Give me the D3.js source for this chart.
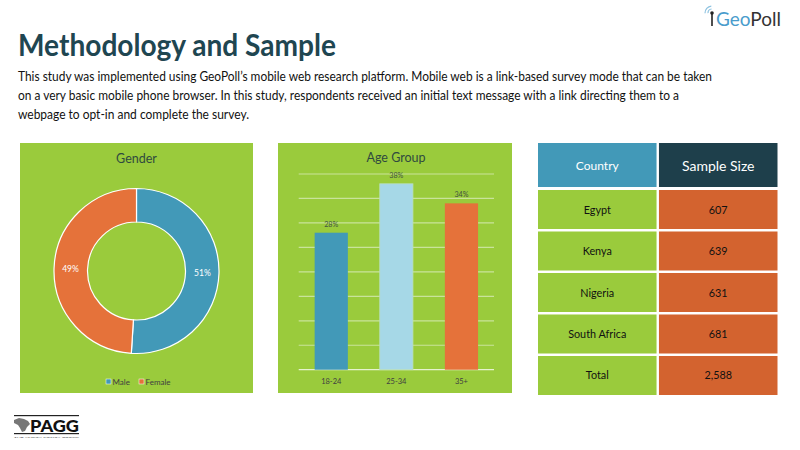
<!DOCTYPE html>
<html><head><meta charset="utf-8">
<script src="https://cdn.jsdelivr.net/npm/d3@7"></script>
<style>body{margin:0;background:#fff}svg{display:block}text{font-family:Lato,"Open Sans",sans-serif}</style>
</head><body>
<svg id="c" width="800" height="450"></svg>
<script>
const titleText = "Methodology and Sample";
const bodyLines = [
  "This study was implemented using GeoPoll\u2019s mobile web research platform. Mobile web is a link-based survey mode that can be taken",
  "on a very basic mobile phone browser. In this study, respondents received an initial text message with a link directing them to a",
  "webpage to opt-in and complete the survey."
];
const genderLabels = ["Male", "Female"];
const genderValues = [51, 49];
const ageGroups = ["18-24", "25-34", "35+"];
const ageValues = [28, 38, 34];
const ageTicks = [0, 5, 10, 15, 20, 25, 30, 35, 40];
const countries = ["Egypt", "Kenya", "Nigeria", "South Africa", "Total"];
const sampleSizes = [607, 639, 631, 681, 2588];
const tableHeaders = ["Country", "Sample Size"];

const svg = d3.select("#c");
const GREEN = "#9acb3c", BLUE = "#4299b8", LBLUE = "#a6d8e7", ORANGE = "#e5723a", DORANGE = "#d3632f", DARK = "#1e3f4b";

// Title & paragraph
svg.append("text").attr("x", 18).attr("y", 56).attr("font-size", 31).attr("font-weight", 700)
  .attr("fill", "#1f4651").attr("textLength", 318).attr("lengthAdjust", "spacingAndGlyphs").text(titleText);
const lineW = [694, 661, 231];
bodyLines.forEach((l, i) => {
  svg.append("text").attr("x", 18).attr("y", 81 + i * 19).attr("font-size", 12.8).attr("fill", "#111")
    .attr("textLength", lineW[i]).attr("lengthAdjust", "spacingAndGlyphs").text(l);
});

// GeoPoll logo
const g0 = svg.append("g");
g0.append("line").attr("x1", 712).attr("x2", 712).attr("y1", 14).attr("y2", 26).attr("stroke", "#222").attr("stroke-width", 1.6);
g0.append("circle").attr("cx", 712).attr("cy", 13).attr("r", 1.8).attr("fill", "#222");
[4, 7].forEach(r => g0.append("path").attr("d", d3.arc()({innerRadius: r - 0.6, outerRadius: r + 0.6, startAngle: -1.6, endAngle: -0.1}))
  .attr("transform", "translate(712,13)").attr("fill", "#8fc3e0"));
const gt = g0.append("text").attr("x", 716).attr("y", 26).attr("font-size", 19).attr("font-family", "'Open Sans',sans-serif");
gt.append("tspan").attr("fill", "#4a9ccc").text("Geo");
gt.append("tspan").attr("fill", "#333").text("Poll");

// Gender donut panel
svg.append("rect").attr("x", 20).attr("y", 143).attr("width", 233).attr("height", 250).attr("fill", GREEN);
svg.append("text").attr("x", 136.5).attr("y", 163).attr("text-anchor", "middle").attr("font-size", 12.5).attr("fill", "#2f4a3f").text("Gender");
const pie = d3.pie().sort(null).value(d => d)(genderValues);
const arc = d3.arc().innerRadius(49).outerRadius(82.5);
const colG = [BLUE, ORANGE];
const dg = svg.append("g").attr("transform", "translate(136.5,271)");
dg.selectAll("path").data(pie).join("path").attr("d", arc).attr("fill", (d, i) => colG[i]).attr("stroke", "#fff").attr("stroke-width", 1.2);
const lblArc = d3.arc().innerRadius(66).outerRadius(66);
dg.selectAll("text.l").data(pie).join("text").attr("class", "l")
  .attr("transform", d => { const c = lblArc.centroid(d); return `translate(${c[0]},${c[1] + 3})`; })
  .attr("text-anchor", "middle").attr("font-size", 8.5).attr("fill", "#fff").text((d, i) => genderValues[i] + "%");
const leg = svg.append("g");
const legX = [106, 139];
genderLabels.forEach((l, i) => {
  leg.append("rect").attr("x", legX[i]).attr("y", 379).attr("width", 5).attr("height", 5).attr("fill", colG[i]).attr("stroke", "#fff").attr("stroke-width", 0.5);
  leg.append("text").attr("x", legX[i] + 6.5).attr("y", 384.5).attr("font-size", 8).attr("fill", "#404040").text(l);
});

// Age bar panel
svg.append("rect").attr("x", 278).attr("y", 143).attr("width", 234).attr("height", 250).attr("fill", GREEN);
svg.append("text").attr("x", 396).attr("y", 162).attr("text-anchor", "middle").attr("font-size", 12.5).attr("fill", "#2f4a3f").text("Age Group");
const x = d3.scaleBand().domain(ageGroups).range([298.7, 494]).paddingInner(0.49).paddingOuter(0.245);
const y = d3.scaleLinear().domain([0, 40]).range([369.7, 174]);
svg.append("g").selectAll("line").data(ageTicks).join("line")
  .attr("x1", 298.7).attr("x2", 494).attr("y1", d => y(d)).attr("y2", d => y(d))
  .attr("stroke", d => d === 0 ? "#e6f2cf" : "#c9e39a").attr("stroke-width", 1.2);
const colA = [BLUE, LBLUE, ORANGE];
svg.append("g").selectAll("rect").data(ageValues).join("rect")
  .attr("x", (d, i) => x(ageGroups[i])).attr("width", x.bandwidth())
  .attr("y", d => y(d)).attr("height", d => y(0) - y(d))
  .attr("fill", (d, i) => colA[i]).attr("stroke", (d, i) => i === 1 ? "#b9dfb8" : "none").attr("stroke-width", 0.8);
svg.append("g").selectAll("text").data(ageValues).join("text")
  .attr("x", (d, i) => x(ageGroups[i]) + x.bandwidth() / 2).attr("y", d => y(d) - 6)
  .attr("text-anchor", "middle").attr("font-size", 7.2).attr("fill", "#435340").text(d => d + "%");
const xa = svg.append("g").attr("transform", "translate(0,369.7)").call(d3.axisBottom(x).tickSize(0).tickPadding(9));
xa.select(".domain").remove();
xa.selectAll("text").attr("font-size", 7.5).attr("fill", "#404040").attr("font-family", "Lato,sans-serif");

// Table
const cx = d3.scaleBand().domain(tableHeaders).range([538, 777.5]).paddingInner(0.02);
const ry = d3.scaleBand().domain(countries).range([190, 395]).paddingInner(0.06);
const hdr = svg.append("g");
hdr.selectAll("rect").data(tableHeaders).join("rect").attr("x", d => cx(d)).attr("y", 143).attr("width", cx.bandwidth()).attr("height", 44)
  .attr("fill", (d, i) => i ? DARK : BLUE);
hdr.selectAll("text").data(tableHeaders).join("text").attr("x", d => cx(d) + cx.bandwidth() / 2).attr("y", (d, i) => i ? 171 : 170)
  .attr("text-anchor", "middle").attr("font-size", (d, i) => i ? 14 : 12).attr("fill", "#fff").text(d => d);
const rows = svg.append("g").selectAll("g").data(countries).join("g");
rows.append("rect").attr("x", cx(tableHeaders[0])).attr("y", d => ry(d)).attr("width", cx.bandwidth()).attr("height", ry.bandwidth()).attr("fill", GREEN);
rows.append("rect").attr("x", cx(tableHeaders[1])).attr("y", d => ry(d)).attr("width", cx.bandwidth()).attr("height", ry.bandwidth()).attr("fill", DORANGE);
rows.append("text").attr("x", cx(tableHeaders[0]) + cx.bandwidth() / 2).attr("y", d => ry(d) + ry.bandwidth() / 2 + 4)
  .attr("text-anchor", "middle").attr("font-size", 10.8).attr("fill", "#111").text(d => d);
rows.append("text").attr("x", cx(tableHeaders[1]) + cx.bandwidth() / 2).attr("y", d => ry(d) + ry.bandwidth() / 2 + 4)
  .attr("text-anchor", "middle").attr("font-size", 10.8).attr("fill", "#111").text((d, i) => d3.format(",")(sampleSizes[i]));

// PAGG logo
const p = svg.append("g");
p.append("rect").attr("x", 14).attr("y", 415).attr("width", 65).attr("height", 1.2).attr("fill", "#222");
p.append("rect").attr("x", 14).attr("y", 433).attr("width", 65).attr("height", 1.2).attr("fill", "#222");
p.append("path").attr("d", "M14,420 L19,418 L24,419 L28,421 L30,424 L27,427 L25,431 L22,432 L20,428 L18,425 L14,423 Z").attr("fill", "#777");
p.append("text").attr("x", 30).attr("y", 432).attr("font-size", 17).attr("font-weight", 900)
  .attr("fill", "#111").attr("textLength", 49).attr("lengthAdjust", "spacingAndGlyphs").attr("font-family", "'DejaVu Sans',sans-serif").text("PAGG");
p.append("text").attr("x", 14).attr("y", 438).attr("font-size", 2.5).attr("fill", "#444").attr("textLength", 65).attr("lengthAdjust", "spacingAndGlyphs").text("THE AFRICA POLICY GROUP");
</script>
</body></html>
